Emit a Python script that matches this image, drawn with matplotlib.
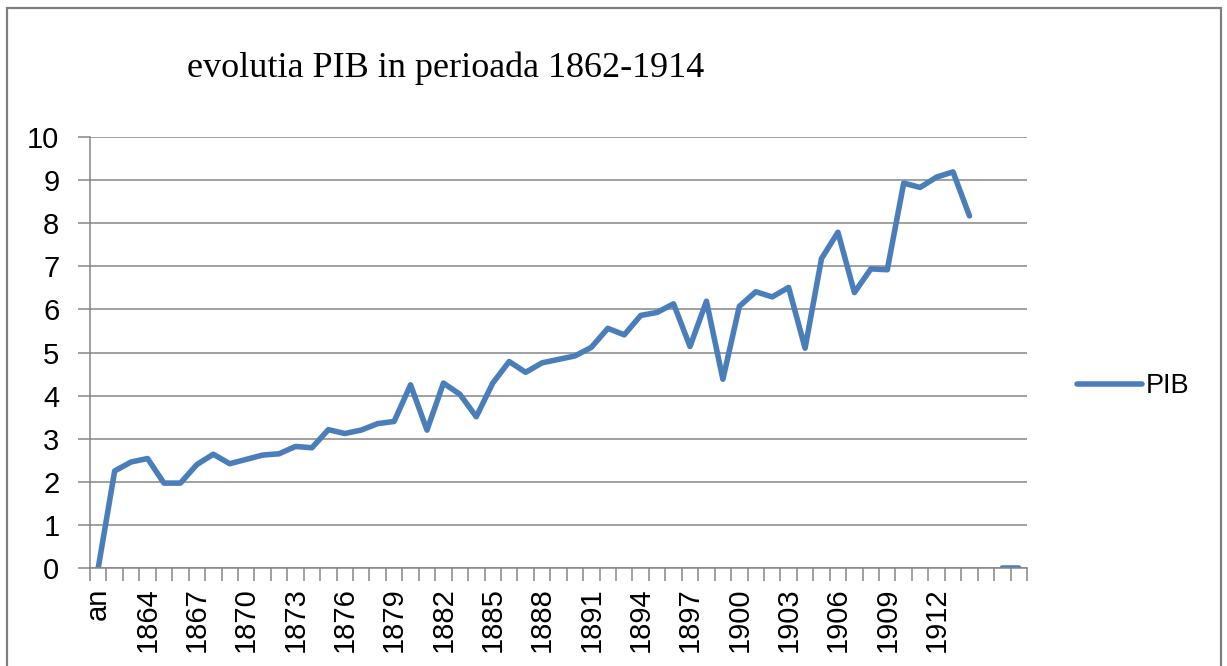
import numpy as np
import matplotlib
matplotlib.use("Agg")
import matplotlib.pyplot as plt
from matplotlib.patches import Rectangle

# category labels: "an" header row, years 1862-1914, then three empty rows
years = list(range(1862, 1915))
categories = ["an"] + [str(y) for y in years] + ["", "", ""]

# PIB values (blank row -> nan)
pib = [0.0,
       2.25, 2.46, 2.54, 1.97, 1.97, 2.40, 2.64, 2.42, 2.52, 2.62,
       2.65, 2.82, 2.79, 3.21, 3.12, 3.20, 3.35, 3.40, 4.25, 3.20,
       4.29, 4.03, 3.51, 4.29, 4.79, 4.54, 4.76, 4.84, 4.92, 5.12,
       5.56, 5.41, 5.86, 5.93, 6.13, 5.14, 6.19, 4.38, 6.07, 6.41,
       6.29, 6.51, 5.10, 7.18, 7.79, 6.39, 6.94, 6.92, 8.93, 8.83,
       9.07, 9.19, 8.17,
       np.nan, 0.0, 0.0]

title = "evolutia PIB in perioada 1862-1914"
series_name = "PIB"

line_color = "#4A7EBB"
grid_color = "#868686"

plt.rcParams['font.family'] = ['Liberation Sans', 'DejaVu Sans']

fig = plt.figure(figsize=(12.27, 6.66), dpi=100)
W, H = 1227, 666
ax = fig.add_axes([90 / W, 1 - 568 / H, (1027 - 90) / W, (568 - 137) / H])

x = np.arange(len(categories))
ax.plot(x, pib, color=line_color, lw=4.0, solid_capstyle='round',
        solid_joinstyle='round', label=series_name)

ax.set_xlim(-0.5, len(categories) - 0.5)
ax.set_ylim(0, 10)
ax.set_yticks(range(0, 11))
ax.grid(axis='y', color=grid_color, lw=1.1)
ax.set_axisbelow(True)

# labels every third category, tick marks between categories
ax.set_xticks(x[::3])
ax.set_xticklabels(categories[::3], rotation=90, fontsize=21)
ax.set_xticks(np.arange(-0.5, len(categories)), minor=True)
ax.tick_params(axis='x', which='major', length=0, pad=14)
ax.tick_params(axis='x', which='minor', length=9, width=1.1, color=grid_color)
ax.tick_params(axis='y', length=9, width=1.1, color=grid_color,
               labelsize=21, pad=13)

for s in ['top', 'right']:
    ax.spines[s].set_visible(False)
for s in ['left', 'bottom']:
    ax.spines[s].set_color(grid_color)
    ax.spines[s].set_linewidth(1.1)

fig.text(446 / W, 1 - 68 / H, title, family='Liberation Serif',
         fontsize=26, ha='center', va='center')

fig.legend(loc='center left', bbox_to_anchor=(1077 / W, 1 - 386 / H),
           frameon=False, fontsize=19.5, handlelength=2.4, handletextpad=0.15,
           borderpad=0, borderaxespad=0)

# outer chart border
fig.patches.append(Rectangle((7 / W, -0.05), (1221 - 7) / W, 1.05 - 8 / H,
                             transform=fig.transFigure, fill=False,
                             edgecolor='#7f7f7f', lw=1.6))

fig.savefig("out.png", dpi=100)
